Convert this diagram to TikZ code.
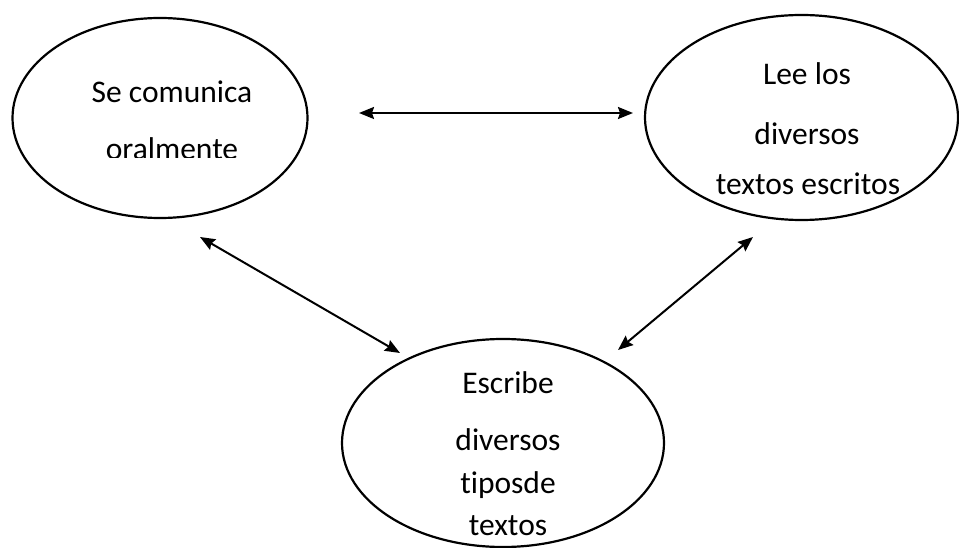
\documentclass[tikz,border=0pt]{standalone}
\usepackage{fontspec}
\setmainfont[Ligatures={NoCommon}]{Carlito}
\usetikzlibrary{shapes.geometric,arrows.meta}
\tikzset{
  bubble/.style={draw=black,line width=2.2pt,ellipse,inner sep=0pt},
  label/.style={anchor=base,inner sep=0pt,font=\fontsize{31.5}{37}\selectfont},
  link/.style={line width=2pt,{Stealth[length=15pt,width=12pt,inset=2pt]}-{Stealth[length=15pt,width=12pt,inset=2pt]}}
}
\begin{document}
\begin{tikzpicture}[x=1pt,y=-1pt]
\useasboundingbox (0,0) rectangle (959,548);
% ellipses
\node[bubble,minimum width=295pt,minimum height=200pt] (oral) at (160,118) {};
\node[bubble,minimum width=313pt,minimum height=205pt] (lee) at (801.5,117.5) {};
\node[bubble,minimum width=322pt,minimum height=208pt] (esc) at (503,443) {};
% texts
\node[label] (t1) at (172,103) {Se comunica};
\begin{scope}
\clip (60,120) rectangle (300,158);
\node[label] (t2) at (172,160) {oralmente};
\end{scope}
\node[label] (t3) at (807,85) {Lee los};
\node[label] (t4) at (807,145) {diversos};
\node[label] (t5) at (808,195) {textos escritos};
\node[label] (t6) at (508,393) {Escribe};
\node[label] (t7) at (508,450) {diversos};
\node[label] (t8) at (508,493) {tiposde};
\node[label] (t9) at (508,535) {textos};
% arrow ends
\coordinate (a1) at (359,113);
\coordinate (a2) at (633,113);
\coordinate (b1) at (200,237);
\coordinate (b2) at (400,353);
\coordinate (c1) at (753,237);
\coordinate (c2) at (618,350);
\draw[link] (a1) -- (a2);
\draw[link] (b1) -- (b2);
\draw[link] (c1) -- (c2);
\end{tikzpicture}
\end{document}
